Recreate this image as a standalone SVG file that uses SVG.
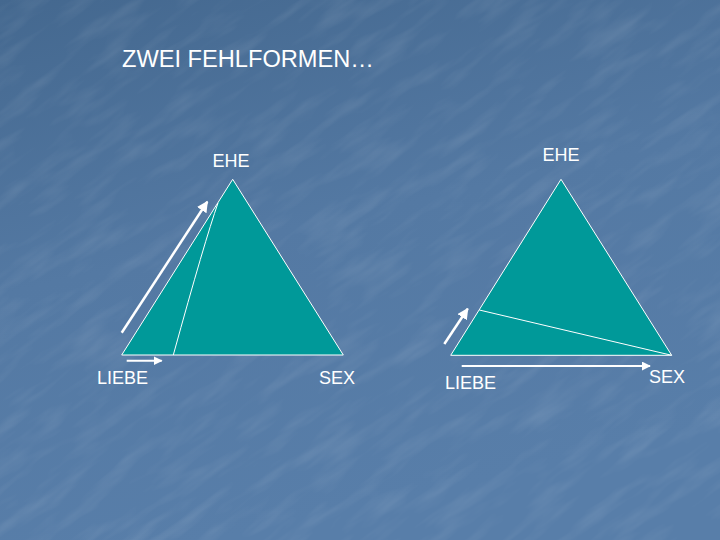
<svg xmlns="http://www.w3.org/2000/svg" width="720" height="540" viewBox="0 0 720 540">
<defs>
<linearGradient id="bg" x1="0" y1="0" x2="0.3" y2="1">
<stop offset="0" stop-color="#44688f"/>
<stop offset="0.5" stop-color="#5479a3"/>
<stop offset="1" stop-color="#587ea9"/>
</linearGradient>
<filter id="tex" x="0" y="0" width="100%" height="100%">
<feTurbulence type="fractalNoise" baseFrequency="0.015 0.07" numOctaves="3" seed="4" result="n"/>
<feColorMatrix in="n" type="matrix" values="0 0 0 0 1  0 0 0 0 1  0 0 0 0 1  0 0 0 1.2 -0.55"/>
</filter>
<marker id="ah" viewBox="0 0 10 10" refX="9" refY="5" markerWidth="4.5" markerHeight="4.5" orient="auto" markerUnits="strokeWidth">
<path d="M0,0 L10,5 L0,10 z" fill="#ffffff"/>
</marker>
<style>
.tri{fill:#009999;stroke:#ffffff;stroke-width:1}
.div{fill:none;stroke:#ffffff;stroke-width:1}
.arr{stroke:#ffffff;stroke-width:2.5;fill:none;marker-end:url(#ah)}
.lbl{font-family:"Liberation Sans",Arial,sans-serif;font-size:18px;fill:#ffffff}
.title{font-family:"Liberation Sans",Arial,sans-serif;font-size:23px;fill:#ffffff}
</style>
</defs>
<rect width="720" height="540" fill="url(#bg)"/>
<g transform="rotate(-35 360 270)">
<rect x="-300" y="-300" width="1320" height="1140" filter="url(#tex)" opacity="0.16"/>
</g>
<text class="title" x="122" y="67" textLength="252" lengthAdjust="spacingAndGlyphs">ZWEI FEHLFORMEN…</text>
<g id="left-triangle">
<polygon class="tri" points="232.7,179.3 121.7,355 343.3,355"/>
<path class="div" d="M218,203 Q205,240 173.3,355"/>
</g>
<g id="right-triangle">
<polygon class="tri" points="561,179.3 450.7,355.3 671.7,355.3"/>
<line class="div" x1="479.3" y1="310" x2="671.7" y2="355.3"/>
</g>
<g id="labels">
<text class="lbl" x="231" y="167" text-anchor="middle">EHE</text>
<text class="lbl" x="97" y="384">LIEBE</text>
<text class="lbl" x="319" y="384">SEX</text>
<text class="lbl" x="561" y="161" text-anchor="middle">EHE</text>
<text class="lbl" x="445" y="389">LIEBE</text>
<text class="lbl" x="649" y="383">SEX</text>
</g>
<g id="connectors">
<line class="arr" x1="121.7" y1="332.7" x2="207.3" y2="201.7"/>
<line class="arr" x1="126.7" y1="360.7" x2="161.7" y2="360.7" style="stroke-width:2"/>
<line class="arr" x1="444.3" y1="344" x2="467.7" y2="308.7"/>
<line class="arr" x1="461.7" y1="366" x2="650" y2="366" style="stroke-width:2"/>
</g>
</svg>
